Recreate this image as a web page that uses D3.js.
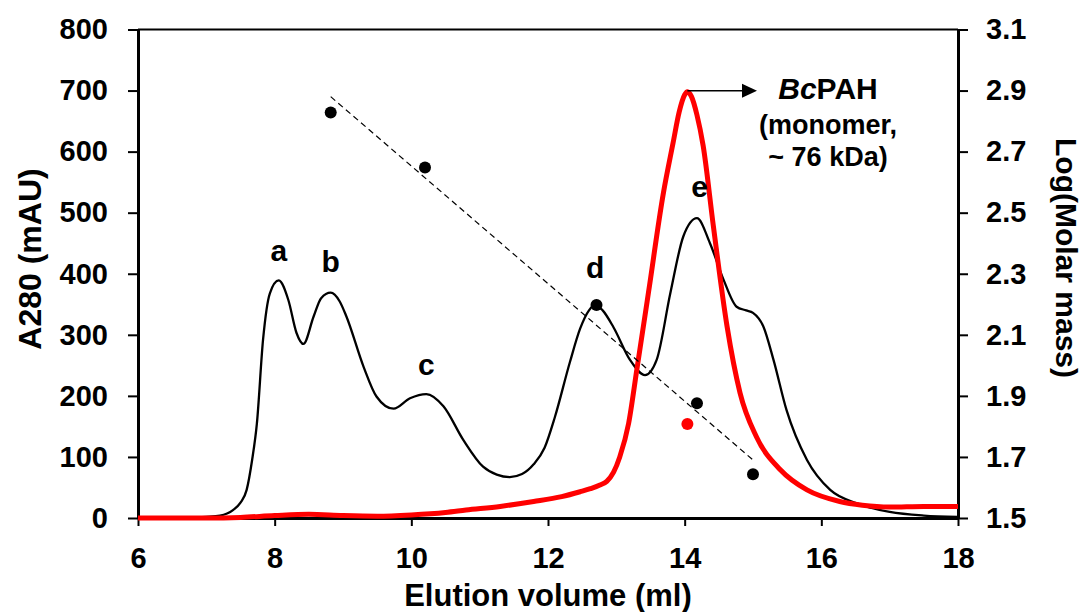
<!DOCTYPE html>
<html>
<head>
<meta charset="utf-8">
<script src="https://cdn.jsdelivr.net/npm/d3@7"></script>
<style>
  body { margin: 0; background: #fff; }
  text { font-family: "Liberation Sans", Arial, sans-serif; font-weight: bold; fill: #000; }
</style>
</head>
<body>
<script>
const w = 1088;
const h = 612;

// A280 trace (black)
const blackVol = [6.0, 6.5, 7.0, 7.2, 7.39, 7.5, 7.59, 7.67, 7.74, 7.83, 7.93, 8.06, 8.2, 8.32, 8.42, 8.57, 8.68, 8.82, 8.95, 9.05,
    9.3, 9.49, 9.74, 9.98, 10.22, 10.47, 10.76, 11.05, 11.25, 11.44, 11.62, 11.79, 11.95, 12.1, 12.32, 12.47, 12.6, 12.69, 12.8, 12.96,
    13.2, 13.42, 13.59, 13.79, 13.98, 14.18, 14.37, 14.57, 14.76, 14.9, 15.0, 15.15, 15.3, 15.49, 15.79, 16.13, 16.52, 17.0, 17.5, 18.0];
const blackA280 = [0, 0, 2, 4, 13, 25, 46, 95, 155, 292, 368, 389, 357, 303, 285, 330, 360, 369, 355, 330,
    248, 199, 179, 196, 203, 183, 128, 84, 71, 67, 72, 88, 115, 165, 255, 310, 340, 349, 340, 312,
    259, 234, 259, 368, 461, 491, 450, 390, 346, 340, 336, 314, 259, 177, 95, 46, 24, 10, 4, 2];

// A280 trace (red, BcPAH)
const redVol = [6.0, 7.0, 7.5, 8.0, 8.5, 9.0, 9.5, 10.0, 10.5, 10.8, 11.3, 11.79, 12.2, 12.47, 12.62, 12.76, 12.86, 12.96, 13.05, 13.18,
    13.3, 13.47, 13.69, 13.83, 13.92, 14.0, 14.04, 14.1, 14.18, 14.27, 14.42, 14.62, 14.81, 15.05, 15.4, 15.79, 16.27, 16.6, 17.0, 17.5, 18.0];
const redA280 = [0, 0, 1, 4, 6, 4, 3, 5, 9, 13, 19, 27, 35, 43, 48, 54, 60, 75, 100, 155,
    243, 369, 533, 614, 665, 693, 698, 690, 660, 610, 478, 314, 205, 133, 79, 46, 27, 21, 18, 19, 19];

// calibration standards and sample (right axis)
const calibVol = [8.82, 10.2, 12.71, 14.18, 15.0];
const calibLogM = [2.828, 2.648, 2.198, 1.876, 1.643];
const sampleVol = [14.04];
const sampleLogM = [1.808];
const fitVol = [8.82, 15.0];
const fitLogM = [2.88, 1.69];

// peak labels
const peakNames = ["a", "b", "c", "d", "e"];
const peakVol = [8.06, 8.82, 10.22, 12.69, 14.22];
const peakA280 = [421, 403, 234, 393, 525];

const xTicks = [6, 8, 10, 12, 14, 16, 18];
const yLeftTicks = [0, 100, 200, 300, 400, 500, 600, 700, 800];
const yRightTicks = [1.5, 1.7, 1.9, 2.1, 2.3, 2.5, 2.7, 2.9, 3.1];

const svg = d3.select("body").append("svg").attr("width", w).attr("height", h);

const x = d3.scaleLinear().domain([6, 18]).range([138, 958]);
const yL = d3.scaleLinear().domain([0, 800]).range([518, 29.5]);
const yR = d3.scaleLinear().domain([1.5, 3.1]).range([518, 29.5]);

// top frame line
svg.append("line")
    .attr("x1", x(6)).attr("x2", x(18))
    .attr("y1", yL(800)).attr("y2", yL(800))
    .attr("stroke", "#000").attr("stroke-width", 2);

////  Axes  ////
const gx = svg.append("g")
    .attr("transform", `translate(0,${yL(0)})`)
    .call(d3.axisBottom(x).tickValues(xTicks).tickSize(8).tickSizeOuter(0).tickPadding(21).tickFormat(d3.format("d")));
const gl = svg.append("g")
    .attr("transform", `translate(${x(6)},0)`)
    .call(d3.axisLeft(yL).tickValues(yLeftTicks).tickSize(10).tickSizeOuter(0).tickPadding(20).tickFormat(d3.format("d")));
const gr = svg.append("g")
    .attr("transform", `translate(${x(18)},0)`)
    .call(d3.axisRight(yR).tickValues(yRightTicks).tickSize(10).tickSizeOuter(0).tickPadding(18).tickFormat(d3.format(".1f")));

[gx, gl, gr].forEach(g => {
    g.select(".domain").attr("stroke-width", 3);
    g.selectAll(".tick line").attr("stroke-width", 2);
    g.selectAll(".tick text").attr("font-size", "29px").attr("font-family", null);
});

svg.append("text")
    .attr("x", (x(6) + x(18)) / 2).attr("y", 606)
    .attr("text-anchor", "middle").attr("font-size", "31px")
    .text("Elution volume (ml)");
svg.append("text")
    .attr("transform", `translate(41,259) rotate(-90)`)
    .attr("text-anchor", "middle").attr("font-size", "32px")
    .text("A280 (mAU)");
svg.append("text")
    .attr("transform", `translate(1056,258) rotate(90)`)
    .attr("text-anchor", "middle").attr("font-size", "30px")
    .text("Log(Molar mass)");

////  Traces  ////
const lineL = d3.line().curve(d3.curveMonotoneX).x(d => x(d[0])).y(d => yL(d[1]));

svg.append("path")
    .attr("d", lineL(blackVol.map((v, i) => [v, blackA280[i]])))
    .attr("fill", "none").attr("stroke", "#000").attr("stroke-width", 2.3);

svg.append("path")
    .attr("d", lineL(redVol.map((v, i) => [v, redA280[i]])))
    .attr("fill", "none").attr("stroke", "#ff0000").attr("stroke-width", 5)
    .attr("stroke-linejoin", "round");

// calibration fit
svg.append("line")
    .attr("x1", x(fitVol[0])).attr("y1", yR(fitLogM[0]))
    .attr("x2", x(fitVol[1])).attr("y2", yR(fitLogM[1]))
    .attr("stroke", "#000").attr("stroke-width", 1.2).attr("stroke-dasharray", "6,4");

svg.selectAll("circle.calib")
    .data(calibVol.map((v, i) => [v, calibLogM[i]]))
    .enter().append("circle")
    .attr("class", "calib")
    .attr("cx", d => x(d[0])).attr("cy", d => yR(d[1]))
    .attr("r", 6).attr("fill", "#000");

svg.selectAll("circle.sample")
    .data(sampleVol.map((v, i) => [v, sampleLogM[i]]))
    .enter().append("circle")
    .attr("class", "sample")
    .attr("cx", d => x(d[0])).attr("cy", d => yR(d[1]))
    .attr("r", 6).attr("fill", "#ff0000");

// peak letters
svg.selectAll("text.peak")
    .data(peakNames)
    .enter().append("text")
    .attr("class", "peak")
    .attr("x", (d, i) => x(peakVol[i]))
    .attr("y", (d, i) => yL(peakA280[i]))
    .attr("text-anchor", "middle").attr("font-size", "30px")
    .text(d => d);

////  Annotation  ////
const peakX = x(redVol[redA280.indexOf(d3.max(redA280))]);
const peakY = yL(d3.max(redA280)) - 1;
svg.append("line")
    .attr("x1", peakX).attr("y1", peakY)
    .attr("x2", 744).attr("y2", peakY)
    .attr("stroke", "#000").attr("stroke-width", 1.5);
svg.append("path")
    .attr("d", `M742,${peakY - 7}L757,${peakY}L742,${peakY + 7}Z`)
    .attr("fill", "#000");

const ann = svg.append("text").attr("text-anchor", "middle");
ann.append("tspan").attr("x", 828).attr("y", 99).attr("font-size", "30px")
    .append("tspan").attr("font-style", "italic").text("Bc");
ann.select("tspan").append("tspan").text("PAH");
ann.append("tspan").attr("x", 828).attr("y", 134).attr("font-size", "27px").text("(monomer,");
ann.append("tspan").attr("x", 828).attr("y", 166).attr("font-size", "27px").text("~ 76 kDa)");
</script>
</body>
</html>
